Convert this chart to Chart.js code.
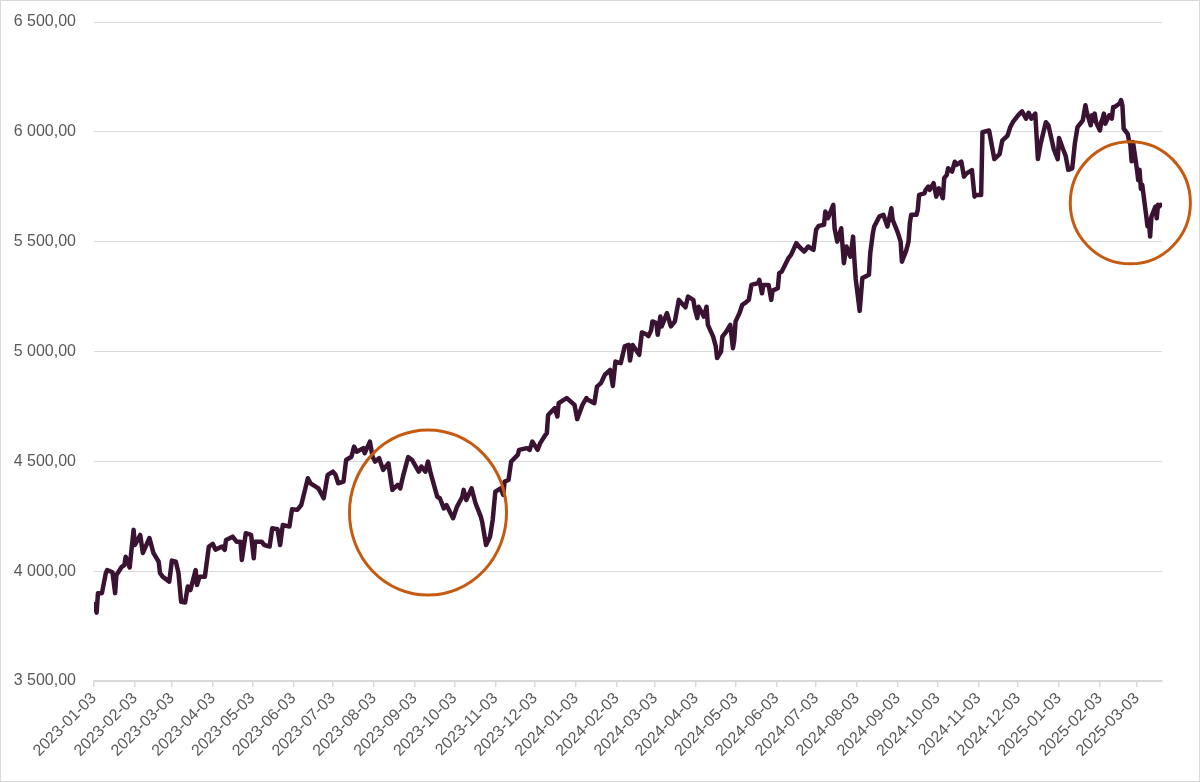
<!DOCTYPE html>
<html>
<head>
<meta charset="utf-8">
<script src="https://cdn.jsdelivr.net/npm/chart.js@4.4.1/dist/chart.umd.min.js"></script>
<style>
  html, body { margin: 0; padding: 0; background: #fff; }
</style>
</head>
<body>
<canvas id="chart" width="1200" height="782"></canvas>
<script>
// daily closes (approx.)
const dates = [
  '2023-01-03','2023-01-05','2023-01-06','2023-01-09','2023-01-12','2023-01-13','2023-01-17','2023-01-19','2023-01-20','2023-01-24',
  '2023-01-26','2023-01-27','2023-01-30','2023-02-02','2023-02-03','2023-02-07','2023-02-09','2023-02-14','2023-02-17','2023-02-21',
  '2023-02-22','2023-02-24','2023-03-01','2023-03-03','2023-03-06','2023-03-08','2023-03-10','2023-03-13','2023-03-15','2023-03-17',
  '2023-03-21','2023-03-22','2023-03-24','2023-03-28','2023-03-31','2023-04-03','2023-04-05','2023-04-10','2023-04-12','2023-04-13',
  '2023-04-18','2023-04-21','2023-04-24','2023-04-25','2023-04-28','2023-05-02','2023-05-04','2023-05-05','2023-05-10','2023-05-12',
  '2023-05-16','2023-05-18','2023-05-22','2023-05-24','2023-05-26','2023-05-31','2023-06-02','2023-06-06','2023-06-09','2023-06-14',
  '2023-06-16','2023-06-22','2023-06-26','2023-06-29','2023-07-03','2023-07-05','2023-07-07','2023-07-11','2023-07-13','2023-07-17',
  '2023-07-19','2023-07-21','2023-07-26','2023-07-27','2023-07-31','2023-08-02','2023-08-04','2023-08-07','2023-08-10','2023-08-14',
  '2023-08-17','2023-08-21','2023-08-23','2023-08-25','2023-08-29','2023-09-01','2023-09-06','2023-09-08','2023-09-11','2023-09-13',
  '2023-09-15','2023-09-20','2023-09-22','2023-09-25','2023-09-27','2023-10-02','2023-10-05','2023-10-09','2023-10-10','2023-10-12',
  '2023-10-16','2023-10-19','2023-10-23','2023-10-24','2023-10-27','2023-10-30','2023-11-01','2023-11-03','2023-11-07','2023-11-09',
  '2023-11-10','2023-11-13','2023-11-15','2023-11-20','2023-11-21','2023-11-27','2023-11-29','2023-12-01','2023-12-05','2023-12-07',
  '2023-12-11','2023-12-12','2023-12-13','2023-12-18','2023-12-20','2023-12-21','2023-12-27',
  '2024-01-02','2024-01-04','2024-01-08','2024-01-11','2024-01-12','2024-01-17','2024-01-19','2024-01-22','2024-01-25','2024-01-29',
  '2024-01-31','2024-02-02','2024-02-06','2024-02-09','2024-02-12','2024-02-13','2024-02-15','2024-02-20','2024-02-22','2024-02-26',
  '2024-02-27','2024-02-29','2024-03-01','2024-03-04','2024-03-05','2024-03-07','2024-03-08','2024-03-12','2024-03-15','2024-03-18',
  '2024-03-21','2024-03-22','2024-03-26','2024-03-28','2024-04-01','2024-04-02','2024-04-04','2024-04-05','2024-04-09','2024-04-11',
  '2024-04-12','2024-04-16','2024-04-18','2024-04-19','2024-04-22','2024-04-23','2024-04-26','2024-04-29','2024-05-01','2024-05-02',
  '2024-05-03','2024-05-06','2024-05-08','2024-05-10','2024-05-13','2024-05-15','2024-05-20','2024-05-21','2024-05-23','2024-05-24',
  '2024-05-28','2024-05-30','2024-05-31','2024-06-04','2024-06-05','2024-06-07','2024-06-12','2024-06-14','2024-06-18','2024-06-20',
  '2024-06-24','2024-06-27','2024-07-01','2024-07-03','2024-07-05','2024-07-09','2024-07-10','2024-07-12','2024-07-16','2024-07-17',
  '2024-07-19','2024-07-22','2024-07-24','2024-07-26','2024-07-29','2024-07-31','2024-08-01','2024-08-02','2024-08-05','2024-08-07',
  '2024-08-12','2024-08-13','2024-08-15','2024-08-16','2024-08-20','2024-08-23','2024-08-26','2024-08-28','2024-08-29','2024-08-30',
  '2024-09-03','2024-09-05','2024-09-06','2024-09-09','2024-09-11','2024-09-12','2024-09-13','2024-09-17','2024-09-18','2024-09-19',
  '2024-09-23','2024-09-24','2024-09-26','2024-09-27','2024-09-30','2024-10-02','2024-10-04','2024-10-07','2024-10-08','2024-10-10',
  '2024-10-11','2024-10-14','2024-10-16','2024-10-17','2024-10-21','2024-10-23','2024-10-25','2024-10-29','2024-10-31','2024-11-01',
  '2024-11-05','2024-11-06','2024-11-11','2024-11-15','2024-11-19','2024-11-21','2024-11-25','2024-11-27','2024-11-29','2024-12-03',
  '2024-12-06','2024-12-09','2024-12-11','2024-12-13','2024-12-16','2024-12-18','2024-12-20','2024-12-24','2024-12-26','2024-12-30',
  '2025-01-02','2025-01-03','2025-01-06','2025-01-08','2025-01-10','2025-01-13','2025-01-15','2025-01-17','2025-01-21','2025-01-23',
  '2025-01-24','2025-01-27','2025-01-28','2025-01-29','2025-01-30','2025-01-31','2025-02-03','2025-02-04','2025-02-05','2025-02-06',
  '2025-02-07','2025-02-10','2025-02-11','2025-02-12','2025-02-13','2025-02-14','2025-02-18','2025-02-19','2025-02-20','2025-02-21',
  '2025-02-24','2025-02-25','2025-02-26','2025-02-27','2025-02-28','2025-03-03','2025-03-04','2025-03-05','2025-03-06','2025-03-07',
  '2025-03-10','2025-03-11','2025-03-12','2025-03-13','2025-03-14','2025-03-17','2025-03-18','2025-03-19','2025-03-20','2025-03-21'
];

const closes = [
  3850, 3811, 3900, 3900, 3992, 4005, 3995, 3900, 3983, 4020,
  4028, 4066, 4017, 4188, 4119, 4165, 4083, 4151, 4083, 4043,
  3992, 3975, 3952, 4048, 4043, 3992, 3861, 3857, 3930, 3914,
  4005, 3937, 3975, 3975, 4112, 4124, 4098, 4112, 4097, 4142,
  4157, 4134, 4134, 4051, 4173, 4165, 4059, 4134, 4134, 4119,
  4112, 4195, 4191, 4119, 4210, 4203, 4282, 4279, 4301, 4423,
  4400, 4377, 4332, 4438, 4453, 4438, 4400, 4408, 4506, 4521,
  4567, 4544, 4560, 4537, 4590, 4521, 4499, 4514, 4461, 4491,
  4370, 4393, 4377, 4430, 4519, 4506, 4453, 4476, 4453, 4499,
  4446, 4339, 4332, 4286, 4301, 4241, 4294, 4339, 4370, 4324,
  4377, 4309, 4248, 4225, 4119, 4157, 4233, 4362, 4377, 4347,
  4408, 4415, 4499, 4529, 4552, 4560, 4552, 4590, 4552, 4583,
  4621, 4628, 4711, 4742, 4704, 4765, 4788,
  4757, 4692, 4757, 4788, 4780, 4765, 4840, 4856, 4894, 4916,
  4843, 4954, 4947, 5023, 5030, 4959, 5030, 4985, 5087, 5076,
  5070, 5096, 5137, 5129, 5076, 5159, 5114, 5175, 5114, 5137,
  5235, 5227, 5201, 5250, 5235, 5197, 5152, 5204, 5159, 5204,
  5121, 5068, 5023, 4970, 5000, 5068, 5091, 5121, 5015, 5053,
  5137, 5175, 5212, 5220, 5235, 5303, 5311, 5326, 5265, 5303,
  5303, 5235, 5277, 5288, 5357, 5364, 5425, 5440, 5493, 5478,
  5455, 5478, 5463, 5554, 5572, 5577, 5637, 5607, 5668, 5560,
  5500, 5561, 5402, 5478, 5432, 5523, 5417, 5330, 5185, 5334,
  5349, 5448, 5539, 5569, 5615, 5622, 5569, 5622, 5652, 5600,
  5539, 5500, 5409, 5455, 5500, 5584, 5622, 5622, 5645, 5713,
  5720, 5736, 5751, 5736, 5766, 5705, 5743, 5698, 5789, 5804,
  5834, 5819, 5864, 5849, 5864, 5796, 5811, 5826, 5705, 5713,
  5713, 5998, 6006, 5876, 5899, 5960, 5983, 6021, 6044, 6075,
  6093, 6060, 6087, 6060, 6083, 5876, 5944, 6044, 6029, 5922,
  5876, 5972, 5922, 5891, 5827, 5834, 5948, 6021, 6052, 6121,
  6090, 6030, 6075, 6050, 6083, 6045, 6006, 6045, 6060, 6083,
  6037, 6075, 6075, 6060, 6113, 6113, 6129, 6144, 6120, 6014,
  5991, 5960, 5944, 5866, 5954, 5830, 5780, 5827, 5740, 5760,
  5620, 5570, 5600, 5523, 5614, 5660, 5607, 5668, 5660, 5668
];

const tickDates = [
  '2023-01-03','2023-02-03','2023-03-03','2023-04-03','2023-05-03','2023-06-03','2023-07-03','2023-08-03','2023-09-03',
  '2023-10-03','2023-11-03','2023-12-03','2024-01-03','2024-02-03','2024-03-03','2024-04-03','2024-05-03','2024-06-03',
  '2024-07-03','2024-08-03','2024-09-03','2024-10-03','2024-11-03','2024-12-03','2025-01-03','2025-02-03','2025-03-03'
];

const yMin = 3500;
const yMax = 6500;
const yStep = 500;
const lastDay = '2025-03-22';

// the two orange rings, centre in data units, radii in days / points
const highlights = [
  { date: '2023-09-13', value: 4267, days: 59.5, span: 376 },
  { date: '2025-02-26', value: 5677, days: 45.5, span: 278 }
];

const origin = Date.UTC(2023, 0, 3);
function dayOf(s) {
    const p = s.split('-').map(Number);
    return (Date.UTC(p[0], p[1] - 1, p[2]) - origin) / 86400000;
}

function fmtNumber(v) {
    return String(Math.round(v)).replace(/\B(?=(\d{3})+(?!\d))/g, ' ') + ',00';
}

const tickLabelByDay = {};
tickDates.forEach(s => { tickLabelByDay[dayOf(s)] = s; });

const ringPlugin = {
    id: 'rings',
    beforeDraw(chart) {
        const ctx = chart.ctx;
        ctx.save();
        ctx.fillStyle = '#ffffff';
        ctx.fillRect(0, 0, chart.width, chart.height);
        ctx.strokeStyle = '#d9d9d9';
        ctx.lineWidth = 1;
        ctx.strokeRect(0.5, 0.5, chart.width - 1, chart.height - 1);
        ctx.restore();
    },
    afterDatasetsDraw(chart) {
        const { ctx, scales: { x, y } } = chart;
        ctx.save();
        ctx.strokeStyle = '#c55a11';
        ctx.lineWidth = 3;
        highlights.forEach(h => {
            const d = dayOf(h.date);
            const cx = x.getPixelForValue(d);
            const cy = y.getPixelForValue(h.value);
            const rx = x.getPixelForValue(d + h.days) - cx;
            const ry = cy - y.getPixelForValue(h.value + h.span);
            ctx.beginPath();
            ctx.ellipse(cx, cy, rx, ry, 0, 0, Math.PI * 2);
            ctx.stroke();
        });
        ctx.restore();
    }
};

const ctx = document.getElementById('chart').getContext('2d');

new Chart(ctx, {
    type: 'line',
    data: {
        datasets: [{
            label: 'S&P 500',
            data: dates.map((d, i) => ({ x: dayOf(d), y: closes[i] })),
            borderColor: '#3a1232',
            borderWidth: 4.5,
            borderJoinStyle: 'round',
            borderCapStyle: 'round',
            pointRadius: 0,
            tension: 0,
            fill: false
        }]
    },
    options: {
        responsive: false,
        animation: false,
        layout: { padding: { top: 22, right: 38, bottom: 0, left: 0 } },
        plugins: {
            legend: { display: false },
            tooltip: { enabled: false }
        },
        scales: {
            x: {
                type: 'linear',
                min: 0,
                max: dayOf(lastDay),
                afterBuildTicks: scale => {
                    scale.ticks = tickDates.map(s => ({ value: dayOf(s) }));
                },
                afterFit: scale => { scale.height = 782 - 681; },
                grid: {
                    drawOnChartArea: false,
                    drawTicks: true,
                    tickLength: 6,
                    color: '#d9d9d9',
                    lineWidth: 1.5
                },
                border: { display: true, color: '#d9d9d9', width: 1.5 },
                ticks: {
                    autoSkip: false,
                    minRotation: 45,
                    maxRotation: 45,
                    padding: 2,
                    color: '#595959',
                    font: { family: 'Liberation Sans, Arial, sans-serif', size: 16 },
                    callback: value => tickLabelByDay[value] || ''
                }
            },
            y: {
                min: yMin,
                max: yMax,
                afterFit: scale => {
                    scale.width = 94;
                    scale.paddingTop = 0;
                    scale.paddingBottom = 0;
                },
                grid: {
                    color: '#d9d9d9',
                    lineWidth: 1,
                    drawTicks: false
                },
                border: { display: false },
                ticks: {
                    stepSize: yStep,
                    padding: 18,
                    color: '#595959',
                    font: { family: 'Liberation Sans, Arial, sans-serif', size: 16 },
                    callback: value => fmtNumber(value)
                }
            }
        }
    },
    plugins: [ringPlugin]
});
</script>
</body>
</html>
